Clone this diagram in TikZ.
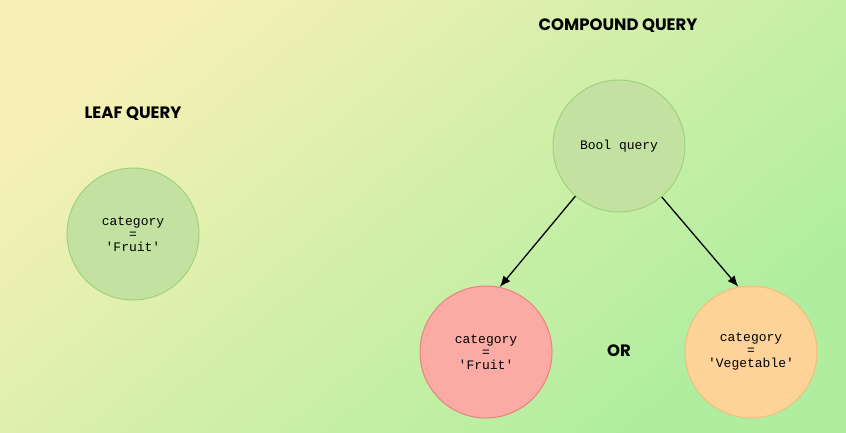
\documentclass[tikz,border=0pt]{standalone}
\usepackage{fontspec}
\setmainfont{Liberation Sans}
\newfontfamily\titlefont{Poppins}[UprightFont=* Bold, ItalicFont=* Bold Italic]
\newfontfamily\monofont{Liberation Mono}
\definecolor{bgA}{HTML}{F6F0B6}
\definecolor{bgB}{HTML}{AEEE9E}
\definecolor{gfill}{HTML}{C3E2A1}
\definecolor{gdraw}{HTML}{9FD27C}
\definecolor{rfill}{HTML}{FBABA4}
\definecolor{rdraw}{HTML}{E9827C}
\definecolor{ofill}{HTML}{FED39A}
\definecolor{odraw}{HTML}{F3BE76}
\tikzset{
  qnode/.style={circle, minimum size=132pt, inner sep=0pt, line width=1pt, align=center,
    font=\monofont\fontsize{13}{13}\selectfont},
  green node/.style={qnode, fill=gfill, draw=gdraw},
  red node/.style={qnode, fill=rfill, draw=rdraw},
  orange node/.style={qnode, fill=ofill, draw=odraw},
  title/.style={font=\titlefont\fontsize{16.5}{16.5}\selectfont, inner sep=0pt},
  link/.style={-{Latex[length=11pt,width=9pt]}, line width=1.3pt}
}
\usetikzlibrary{arrows.meta}
\begin{document}
\begin{tikzpicture}[x=1pt,y=-1pt]
\useasboundingbox (0,0) rectangle (846,432);
\shade[shading=axis, top color=bgA, bottom color=bgB, shading angle=40] (0,0) rectangle (846,432);
\node[title] (leaftitle) at (133,114) {LEAF QUERY};
\node[title] (comptitle) at (618,26) {COMPOUND QUERY};
\node[green node] (leaf) at (133,234) {category\\=\\'Fruit'};
\node[green node] (bool) at (619,146) {Bool query};
\node[red node] (fruit) at (486,352) {category\\=\\'Fruit'};
\node[orange node] (veg) at (751,352) {category\\=\\'Vegetable'};
\node[title] (or) at (619,351) {OR};
\draw[link] (bool.229) -- (fruit.78);
\draw[link] (bool.310) -- (veg.101);
\end{tikzpicture}
\end{document}
